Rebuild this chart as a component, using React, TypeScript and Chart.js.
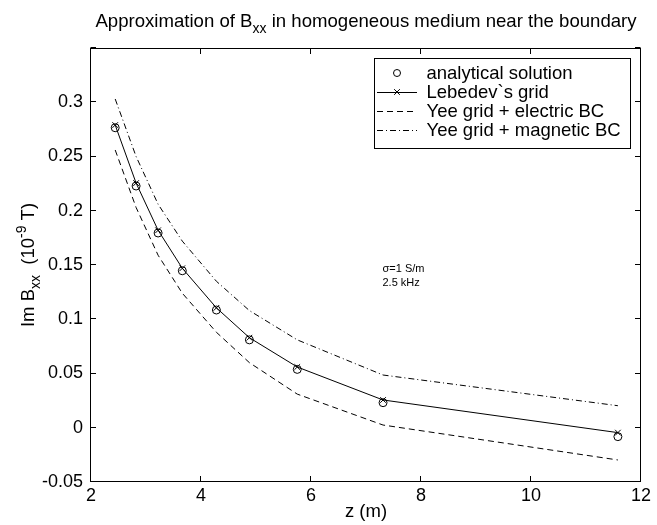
import React, { useEffect, useRef } from "react";
import { Chart, registerables } from "chart.js";

Chart.register(...registerables);

// ---- data ----
const zValues = [2.44, 2.82, 3.22, 3.66, 4.28, 4.88, 5.75, 7.31, 11.58];
const analytical = [0.2765, 0.2228, 0.1795, 0.1447, 0.1085, 0.081, 0.0538, 0.0231, -0.0082];
const lebedev = [0.279, 0.2255, 0.182, 0.147, 0.1105, 0.083, 0.056, 0.0256, -0.0045];
const yeeElectric = [0.256, 0.203, 0.159, 0.124, 0.088, 0.06, 0.031, 0.0025, -0.0297];
const yeeMagnetic = [0.303, 0.25, 0.206, 0.172, 0.135, 0.108, 0.081, 0.0486, 0.0203];
const seriesLabels = [
  "analytical solution",
  "Lebedev`s grid",
  "Yee grid + electric BC",
  "Yee grid + magnetic BC",
];
const xTicks = [2, 4, 6, 8, 10, 12];
const xTickLabels = ["2", "4", "6", "8", "10", "12"];
const yTicks = [-0.05, 0, 0.05, 0.1, 0.15, 0.2, 0.25, 0.3, 0.35];
const yTickLabels = ["-0.05", "0", "0.05", "0.1", "0.15", "0.2", "0.25", "0.3", ""];
const annotationLines = ["σ=1 S/m", "2.5 kHz"];
const annotationAnchor = { x: 7.3, y: 0.1435 };

const FONT = '"Liberation Sans", Arial, Helvetica, sans-serif';

type Part = { text: string; size: number; dy: number };

function drawRich(ctx: CanvasRenderingContext2D, parts: Part[], cx: number, y: number) {
  let total = 0;
  const widths = parts.map((p) => {
    ctx.font = `${p.size}px ${FONT}`;
    const w = ctx.measureText(p.text).width;
    total += w;
    return w;
  });
  let x = cx - total / 2;
  ctx.textAlign = "left";
  ctx.textBaseline = "alphabetic";
  parts.forEach((p, i) => {
    ctx.font = `${p.size}px ${FONT}`;
    ctx.fillText(p.text, x, y + p.dy);
    x += widths[i];
  });
}

const overlayPlugin = {
  id: "overlay",
  afterDraw(chart: any) {
    const ctx: CanvasRenderingContext2D = chart.ctx;
    const { left, right, top, bottom } = chart.chartArea;
    const xs = chart.scales.x;
    const ys = chart.scales.y;
    ctx.save();
    ctx.strokeStyle = "#000";
    ctx.fillStyle = "#000";
    ctx.lineWidth = 1;
    ctx.setLineDash([]);

    // box
    const L = Math.round(left) - 0.5;
    const R = Math.round(right) - 0.5;
    const T = Math.round(top) + 0.5;
    const B = Math.round(bottom) - 0.5;
    ctx.strokeRect(L, T, R - L, B - T);

    // inward ticks
    const tl = 5.5;
    ctx.beginPath();
    xTicks.forEach((v) => {
      const px = Math.round(xs.getPixelForValue(v)) - 0.5;
      ctx.moveTo(px, B);
      ctx.lineTo(px, B - tl);
      ctx.moveTo(px, T);
      ctx.lineTo(px, T + tl);
    });
    yTicks.forEach((v) => {
      const py = Math.round(ys.getPixelForValue(v)) - 0.5;
      ctx.moveTo(L, py);
      ctx.lineTo(L + tl, py);
      ctx.moveTo(R, py);
      ctx.lineTo(R - tl, py);
    });
    ctx.stroke();

    // title
    const cx = (left + right) / 2;
    drawRich(
      ctx,
      [
        { text: "Approximation of B", size: 18.6, dy: 0 },
        { text: "xx", size: 14, dy: 6 },
        { text: " in homogeneous medium near the boundary", size: 18.6, dy: 0 },
      ],
      cx,
      26.5
    );

    // x label
    drawRich(ctx, [{ text: "z (m)", size: 18.5, dy: 0 }], cx, 517);

    // y label
    ctx.save();
    ctx.translate(33.5, (top + bottom) / 2);
    ctx.rotate(-Math.PI / 2);
    drawRich(
      ctx,
      [
        { text: "Im B", size: 18.5, dy: 0 },
        { text: "xx", size: 14, dy: 6 },
        { text: "  (10", size: 18.5, dy: 0 },
        { text: "-9", size: 14, dy: -8 },
        { text: " T)", size: 18.5, dy: 0 },
      ],
      0,
      0
    );
    ctx.restore();

    // annotation
    ctx.font = `11px ${FONT}`;
    ctx.textAlign = "left";
    ctx.textBaseline = "alphabetic";
    const ax = xs.getPixelForValue(annotationAnchor.x);
    const ay = ys.getPixelForValue(annotationAnchor.y);
    annotationLines.forEach((t, i) => ctx.fillText(t, ax, ay + i * 14));

    // legend
    const lx = 374.5, ly = 58.5, lw = 256, lh = 90;
    ctx.fillStyle = "#fff";
    ctx.fillRect(lx, ly, lw, lh);
    ctx.strokeRect(lx, ly, lw, lh);
    ctx.fillStyle = "#000";
    chart.data.datasets.forEach((ds: any, i: number) => {
      const cy = 73 + i * 19;
      if (ds.showLine) {
        ctx.setLineDash(ds.borderDash || []);
        ctx.beginPath();
        ctx.moveTo(377, cy + 0.5);
        ctx.lineTo(417, cy + 0.5);
        ctx.stroke();
        ctx.setLineDash([]);
      }
      const mx = 397;
      if (ds.pointRadius > 0) {
        ctx.beginPath();
        if (ds.pointStyle === "circle") {
          ctx.arc(mx, cy, ds.pointRadius - 0.5, 0, Math.PI * 2);
        } else {
          const r = ds.pointRadius * Math.SQRT1_2;
          ctx.moveTo(mx - r, cy - r);
          ctx.lineTo(mx + r, cy + r);
          ctx.moveTo(mx - r, cy + r);
          ctx.lineTo(mx + r, cy - r);
        }
        ctx.stroke();
      }
      ctx.font = `18.5px ${FONT}`;
      ctx.textBaseline = "middle";
      ctx.textAlign = "left";
      ctx.fillText(ds.label, 426.5, cy + 1);
    });
    ctx.restore();
  },
};

const pts = (ys: number[]) => zValues.map((z, i) => ({ x: z, y: ys[i] }));

export default function App() {
  const ref = useRef<HTMLCanvasElement | null>(null);
  useEffect(() => {
    if (!ref.current) return;
    const chart = new Chart(ref.current, {
      type: "scatter",
      data: {
        datasets: [
          {
            label: seriesLabels[0],
            data: pts(analytical),
            showLine: false,
            pointStyle: "circle",
            pointRadius: 4,
            pointBorderWidth: 1,
            pointBorderColor: "#000",
            pointBackgroundColor: "rgba(0,0,0,0)",
            borderColor: "#000",
          },
          {
            label: seriesLabels[1],
            data: pts(lebedev),
            showLine: true,
            borderColor: "#000",
            borderWidth: 1,
            pointStyle: "crossRot",
            pointRadius: 4,
            pointBorderWidth: 1,
            pointBorderColor: "#000",
            pointBackgroundColor: "#000",
          },
          {
            label: seriesLabels[2],
            data: pts(yeeElectric),
            showLine: true,
            borderColor: "#000",
            borderWidth: 1,
            borderDash: [6, 4],
            pointRadius: 0,
          },
          {
            label: seriesLabels[3],
            data: pts(yeeMagnetic),
            showLine: true,
            borderColor: "#000",
            borderWidth: 1,
            borderDash: [6, 3, 1, 3],
            pointRadius: 0,
          },
        ],
      } as any,
      options: {
        animation: false,
        responsive: true,
        maintainAspectRatio: false,
        events: [],
        layout: { padding: { top: 48, right: 16, left: 0, bottom: 0 } },
        plugins: {
          legend: { display: false },
          title: { display: false },
          tooltip: { enabled: false },
        },
        scales: {
          x: {
            type: "linear",
            min: 2,
            max: 12,
            grid: { display: false, drawTicks: false },
            border: { display: false },
            afterBuildTicks: (s: any) => {
              s.ticks = xTicks.map((v) => ({ value: v }));
            },
            afterFit: (s: any) => {
              s.height = 43;
            },
            ticks: {
              color: "#000",
              font: { size: 18, family: FONT },
              padding: 3,
              maxRotation: 0,
              autoSkip: false,
              callback: (_v: any, i: number) => xTickLabels[i],
            },
          },
          y: {
            type: "linear",
            min: -0.05,
            max: 0.35,
            grid: { display: false, drawTicks: false },
            border: { display: false },
            afterBuildTicks: (s: any) => {
              s.ticks = yTicks.map((v) => ({ value: v }));
            },
            afterFit: (s: any) => {
              s.width = 91;
            },
            ticks: {
              color: "#000",
              font: { size: 18, family: FONT },
              padding: 8,
              autoSkip: false,
              callback: (_v: any, i: number) => yTickLabels[i],
            },
          },
        },
      } as any,
      plugins: [overlayPlugin],
    });
    return () => chart.destroy();
  }, []);
  return (
    <div style={{ position: "absolute", left: 0, top: 0, width: 657, height: 525, background: "#fff" }}>
      <canvas ref={ref} />
    </div>
  );
}
